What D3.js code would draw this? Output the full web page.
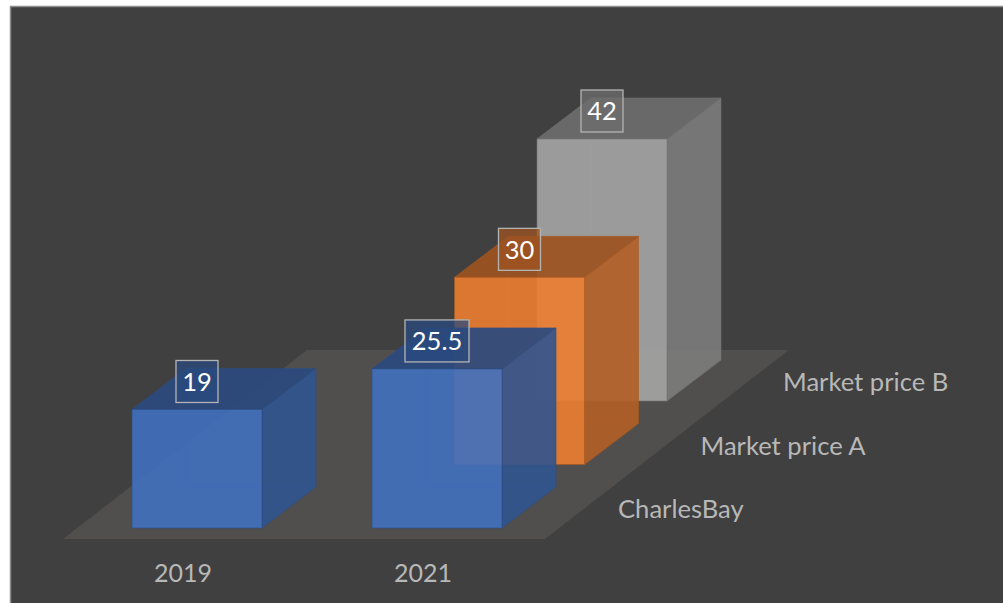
<!DOCTYPE html>
<html>
<head>
<meta charset="utf-8">
<script src="https://cdn.jsdelivr.net/npm/d3@7"></script>
<style>
  html, body { margin: 0; padding: 0; background: #fff; overflow: hidden; }
  svg { display: block; }
  text { font-family: Lato, "Open Sans", sans-serif; }
</style>
</head>
<body>
<div id="chart"></div>
<script>
// chart values
var years = ["2019", "2021"];
var seriesNames = ["CharlesBay", "Market price A", "Market price B"];
var charlesBay = [19, 25.5];
var marketPriceA = [null, 30];
var marketPriceB = [null, 42];
var seriesValues = [charlesBay, marketPriceA, marketPriceB];
var seriesColors = ["#4070bf", "#ed7d31", "#a5a5a5"];

var svgWidth = 1003, svgHeight = 603;

var svg = d3.select("#chart").append("svg")
  .attr("width", svgWidth)
  .attr("height", svgHeight);

// panel, runs off the right and bottom of the picture
svg.append("rect")
  .attr("x", 10.5).attr("y", 6.5)
  .attr("width", 1000).attr("height", 610)
  .attr("fill", "#404040")
  .attr("stroke", "#8c8c8c")
  .attr("stroke-width", 1.5);

// scales: x across the years, series go into the depth
var barWidth = 130;
var depth = {x: 54, y: -41};
var baseY = 528;
var x = d3.scalePoint().domain(years).range([132, 372]);
var y = d3.scaleLinear().domain([0, 42]).range([baseY, baseY - 262]);
var sx = d3.scalePoint().domain(seriesNames).range([0, 165]);
var sy = d3.scalePoint().domain(seriesNames).range([0, -127]);

var poly = function(points) {
  return d3.line()(points) + "Z";
};

// floor
svg.append("path")
  .attr("d", poly([[63, 539], [545, 539], [789, 350], [307, 350]]))
  .attr("fill", "#504f4e");

// flatten to bars, far ones first so the near ones are drawn over them
var bars = [];
seriesNames.forEach(function(name, s) {
  years.forEach(function(year, i) {
    if (seriesValues[s][i] != null) {
      bars.push({series: name, year: year, value: seriesValues[s][i], color: seriesColors[s]});
    }
  });
});
bars.reverse();

var g = svg.selectAll(".bar")
  .data(bars)
  .join("g")
  .attr("class", "bar");

var corners = function(d) {
  var x0 = x(d.year) + sx(d.series), x1 = x0 + barWidth;
  var b = y(0) + sy(d.series), t = y(d.value) + sy(d.series);
  return {x0: x0, x1: x1, b: b, t: t};
};

var topColor = function(d) { return d3.color(d.color).darker(1.15); };
var edgeColor = function(d) { return d3.color(d.color).darker(1); };

// hidden back edges, they show faintly through the front face
g.append("path")
  .attr("d", function(d) {
    var c = corners(d);
    return d3.line()([[c.x0 + depth.x, c.t + depth.y], [c.x0 + depth.x, c.b + depth.y], [c.x1 + depth.x, c.b + depth.y]]);
  })
  .attr("fill", "none")
  .attr("stroke", edgeColor)
  .attr("stroke-opacity", 0.5);

// side face
g.append("path")
  .attr("d", function(d) {
    var c = corners(d);
    return poly([[c.x1, c.b], [c.x1 + depth.x, c.b + depth.y], [c.x1 + depth.x, c.t + depth.y], [c.x1, c.t]]);
  })
  .attr("fill", function(d) { return d3.color(d.color).darker(0.8); })
  .attr("fill-opacity", 0.9)
  .attr("stroke", edgeColor)
  .attr("stroke-opacity", 0.6);

// top face
g.append("path")
  .attr("d", function(d) {
    var c = corners(d);
    return poly([[c.x0, c.t], [c.x1, c.t], [c.x1 + depth.x, c.t + depth.y], [c.x0 + depth.x, c.t + depth.y]]);
  })
  .attr("fill", topColor)
  .attr("fill-opacity", 0.92)
  .attr("stroke", edgeColor)
  .attr("stroke-opacity", 0.6);

// front face
g.append("path")
  .attr("d", function(d) {
    var c = corners(d);
    return poly([[c.x0, c.b], [c.x1, c.b], [c.x1, c.t], [c.x0, c.t]]);
  })
  .attr("fill", function(d) { return d.color; })
  .attr("fill-opacity", 0.9)
  .attr("stroke", edgeColor)
  .attr("stroke-opacity", 0.6);

// value labels
var labels = svg.selectAll(".value-label")
  .data(bars)
  .join("g")
  .attr("class", "value-label")
  .attr("transform", function(d) {
    var c = corners(d);
    return "translate(" + ((c.x0 + c.x1) / 2) + "," + (c.t - 28) + ")";
  });

labels.append("rect")
  .attr("x", function(d) { return d.value % 1 ? -32 : -21; })
  .attr("y", -21)
  .attr("width", function(d) { return d.value % 1 ? 64 : 42; })
  .attr("height", 42)
  .attr("fill", topColor)
  .attr("fill-opacity", 0.75)
  .attr("stroke", "#b4b4b4")
  .attr("stroke-width", 1.3);

labels.append("text")
  .attr("text-anchor", "middle")
  .attr("dy", "0.36em")
  .attr("fill", "#fff")
  .attr("font-size", 25.5)
  .text(function(d) { return d.value; });

// year labels
svg.selectAll(".year-label")
  .data(years)
  .join("text")
  .attr("class", "year-label")
  .attr("x", function(d) { return x(d) + 51; })
  .attr("y", 582)
  .attr("text-anchor", "middle")
  .attr("fill", "#b8b8b8")
  .attr("font-size", 25)
  .text(function(d) { return d; });

// series labels
svg.selectAll(".series-label")
  .data(seriesNames)
  .join("text")
  .attr("class", "series-label")
  .attr("x", function(d) { return 618 + sx(d); })
  .attr("y", function(d) { return 518 + sy(d); })
  .attr("fill", "#b8b8b8")
  .attr("font-size", 25.6)
  .text(function(d) { return d; });
</script>
</body>
</html>
